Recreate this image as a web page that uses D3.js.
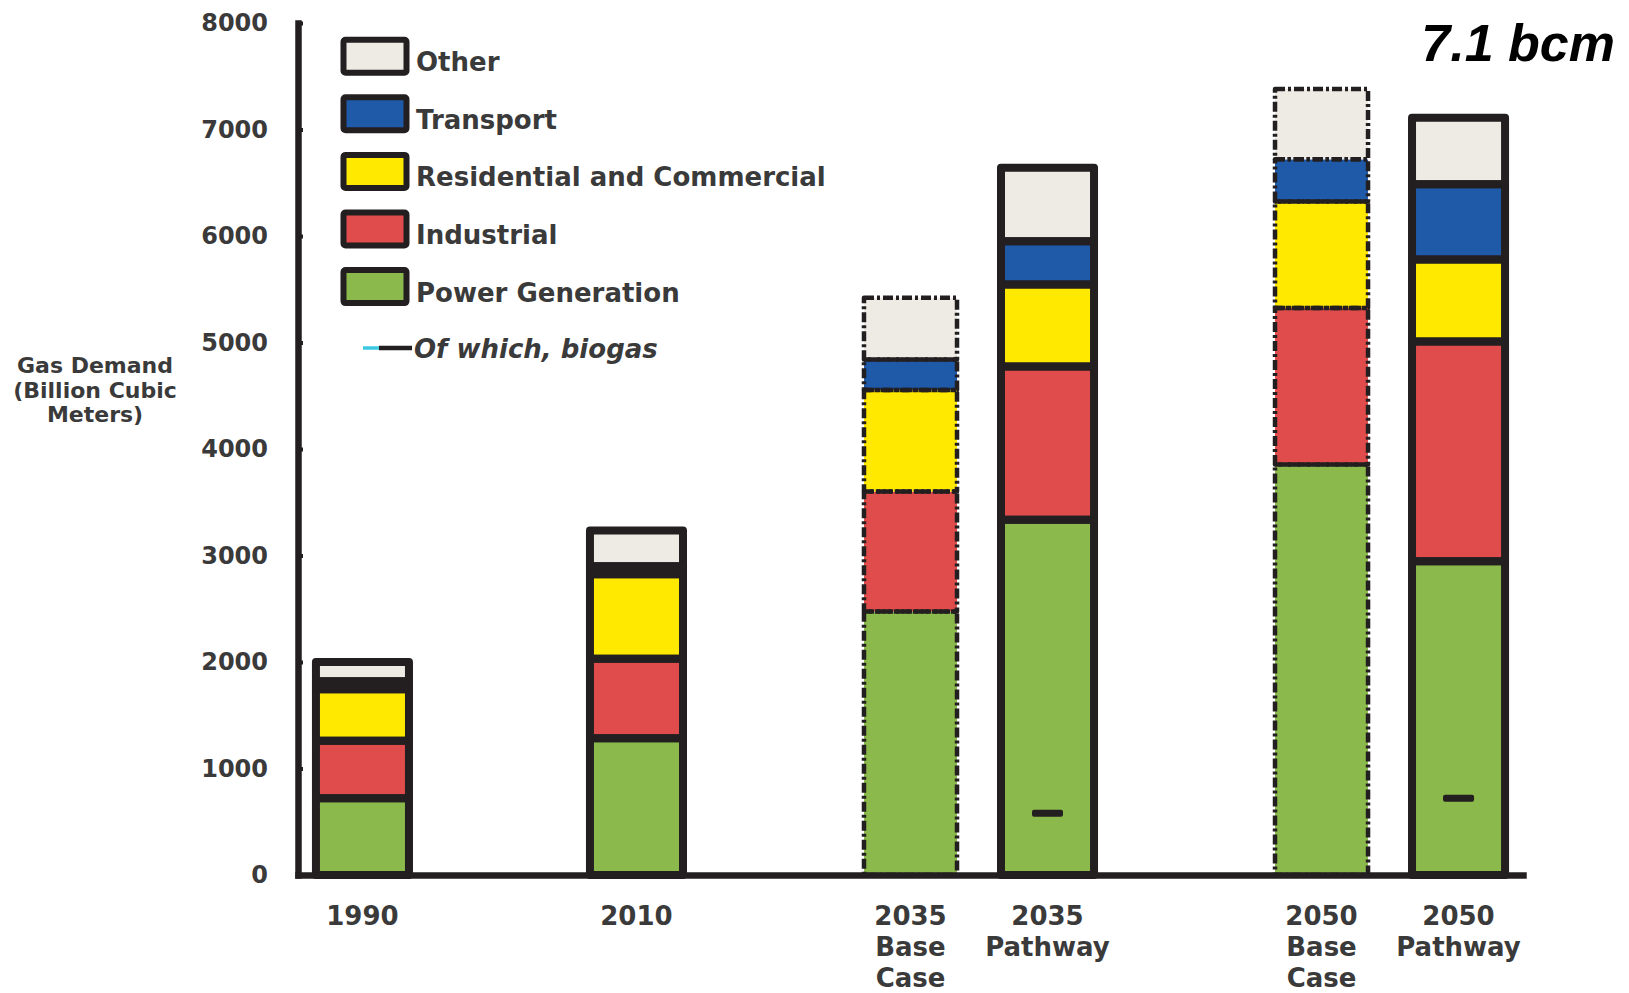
<!DOCTYPE html>
<html>
<head>
<meta charset="utf-8">
<script src="https://cdn.jsdelivr.net/npm/d3@7"></script>
<style>
  html, body { margin: 0; padding: 0; background: #fff; overflow: hidden; }
  svg { display: block; }
</style>
</head>
<body>
<svg id="chart" width="1629" height="993"></svg>
<script>
// ---------------- DATA ----------------
const categories = ["1990", "2010", "2035 Base Case", "2035 Pathway", "2050 Base Case", "2050 Pathway"];
const periods = ["1990", "2010", "2035", "2050"];
const scenarioType = ["historical", "historical", "base", "pathway", "base", "pathway"];

const powerGeneration       = [720, 1285, 2475, 3335, 3855, 2945];
const industrial            = [540,  745, 1125, 1440, 1470, 2065];
const residentialCommercial = [485,  795,  955,  770, 1000,  770];
const transport             = [ 75,   75,  285,  405,  395,  705];
const other                 = [180,  335,  580,  690,  660,  625];
const biogas                = [null, null, null, 580, null, 720];

const seriesNames = ["Power Generation", "Industrial", "Residential and Commercial", "Transport", "Other"];
const seriesValues = [powerGeneration, industrial, residentialCommercial, transport, other];
const seriesColors = ["#8bb94b", "#e04c4b", "#ffe900", "#1f5aa8", "#eeebe5"];

const yTicks = [0, 1000, 2000, 3000, 4000, 5000, 6000, 7000, 8000];
const yTitle = ["Gas Demand", "(Billion Cubic", "Meters)"];
const biogasLabel = "Of which, biogas";
const annotation = "7.1 bcm";

// ---------------- SETUP ----------------
const INK = "#231f20";
const TEXT = "#3a3a3a";
const svg = d3.select("#chart");

// slots: categories grouped by period with a spacer between periods
const slots = [];
periods.forEach((p, i) => {
  if (i > 0) slots.push("gap" + i);
  categories.filter(c => c.split(" ")[0] === p).forEach(c => slots.push(c));
});

const x = d3.scaleBand().domain(slots).range([298, 1523]).paddingInner(0.321).paddingOuter(0.131);
const y = d3.scaleLinear().domain([0, 8000]).range([875, 23]);
const color = d3.scaleOrdinal().domain(seriesNames).range(seriesColors);

const rows = categories.map((c, i) => {
  const r = { category: c, type: scenarioType[i], biogas: biogas[i] };
  seriesNames.forEach((s, j) => r[s] = seriesValues[j][i]);
  return r;
});
const stacked = d3.stack().keys(seriesNames)(rows);

// ---------------- BARS ----------------
const barsG = svg.append("g");
// fills
stacked.forEach(layer => {
  barsG.selectAll(null).data(layer).join("rect")
    .attr("x", d => x(d.data.category))
    .attr("width", x.bandwidth())
    .attr("y", d => y(d[1]))
    .attr("height", d => y(d[0]) - y(d[1]))
    .attr("fill", color(layer.key));
});
// outlines
stacked.forEach(layer => {
  barsG.selectAll(null).data(layer).join("rect")
    .attr("x", d => x(d.data.category))
    .attr("width", x.bandwidth())
    .attr("y", d => y(d[1]))
    .attr("height", d => y(d[0]) - y(d[1]))
    .attr("fill", "none")
    .attr("stroke", INK)
    .attr("stroke-linejoin", "round")
    .attr("stroke-width", d => d.data.type === "base" ? 4.5 : 8)
    .attr("stroke-dasharray", d => d.data.type === "base" ? "10,3,3,3" : null);
});
// biogas markers
barsG.selectAll(".bio").data(rows.filter(r => r.biogas != null)).join("rect")
  .attr("class", "bio")
  .attr("x", d => x(d.category) + x.bandwidth() / 2 - 15.5)
  .attr("width", 31)
  .attr("y", d => y(d.biogas) - 3.5)
  .attr("height", 7)
  .attr("rx", 2)
  .attr("fill", INK);

// ---------------- AXES ----------------
const yAxis = d3.axisLeft(y).tickValues(yTicks).tickFormat(d3.format("d"))
  .tickSizeInner(-5).tickSizeOuter(0).tickPadding(30);
const yG = svg.append("g").attr("transform", "translate(298,0)").call(yAxis);
yG.select(".domain").attr("stroke", INK).attr("stroke-width", 6.5).attr("stroke-linecap", "square");
yG.selectAll(".tick line").attr("stroke", INK).attr("stroke-width", 4);
yG.selectAll(".tick text")
  .attr("fill", TEXT)
  .style("font-family", "'DejaVu Sans', sans-serif")
  .style("font-weight", "bold")
  .style("font-size", "24px");

const xAxis = d3.axisBottom(x).tickValues([]).tickSizeOuter(0);
const xG = svg.append("g").attr("transform", `translate(0,${y(0)})`).call(xAxis);
xG.select(".domain").attr("stroke", INK).attr("stroke-width", 6.5).attr("stroke-linecap", "square");

// x labels (multi-line)
const xLab = svg.append("g");
categories.forEach(c => {
  const t = xLab.append("text")
    .attr("x", x(c) + x.bandwidth() / 2)
    .attr("y", 925)
    .attr("text-anchor", "middle")
    .attr("fill", TEXT)
    .style("font-family", "'DejaVu Sans', sans-serif")
    .style("font-weight", "bold")
    .style("font-size", "26px");
  c.split(" ").forEach((w, i) => {
    t.append("tspan").attr("x", x(c) + x.bandwidth() / 2).attr("dy", i === 0 ? 0 : 31).text(w);
  });
});

// y title
const yt = svg.append("text")
  .attr("text-anchor", "middle")
  .attr("fill", TEXT)
  .style("font-family", "'DejaVu Sans', sans-serif")
  .style("font-weight", "bold")
  .style("font-size", "22px");
yTitle.forEach((line, i) => {
  yt.append("tspan").attr("x", 95).attr("y", 373 + i * 24.5).text(line);
});

// annotation
svg.append("text")
  .attr("x", 1615).attr("y", 61)
  .attr("text-anchor", "end")
  .attr("fill", "#000")
  .style("font-family", "'Liberation Sans', Arial, sans-serif")
  .style("font-weight", "bold")
  .style("font-style", "italic")
  .style("font-size", "52px")
  .text(annotation);

// ---------------- LEGEND ----------------
const legendItems = seriesNames.slice().reverse();
const lg = svg.append("g");
legendItems.forEach((name, i) => {
  const top = 39.7 + i * 57.6;
  lg.append("rect")
    .attr("x", 343.5).attr("y", top)
    .attr("width", 63).attr("height", 33)
    .attr("rx", 2)
    .attr("fill", color(name))
    .attr("stroke", INK)
    .attr("stroke-width", 6);
  lg.append("text")
    .attr("x", 416).attr("y", top + 16.5 + 15)
    .attr("fill", TEXT)
    .style("font-family", "'DejaVu Sans', sans-serif")
    .style("font-weight", "bold")
    .style("font-size", "26px")
    .text(name);
});
// biogas legend entry
lg.append("line").attr("x1", 363).attr("x2", 412).attr("y1", 348).attr("y2", 348)
  .attr("stroke", "#3cc8e0").attr("stroke-width", 3.5);
lg.append("line").attr("x1", 379).attr("x2", 412).attr("y1", 348).attr("y2", 348)
  .attr("stroke", INK).attr("stroke-width", 4.5);
lg.append("text")
  .attr("x", 414).attr("y", 358)
  .attr("fill", TEXT)
  .style("font-family", "'DejaVu Sans', sans-serif")
  .style("font-weight", "bold")
  .style("font-style", "italic")
  .style("font-size", "26px")
  .text(biogasLabel);
</script>
</body>
</html>
